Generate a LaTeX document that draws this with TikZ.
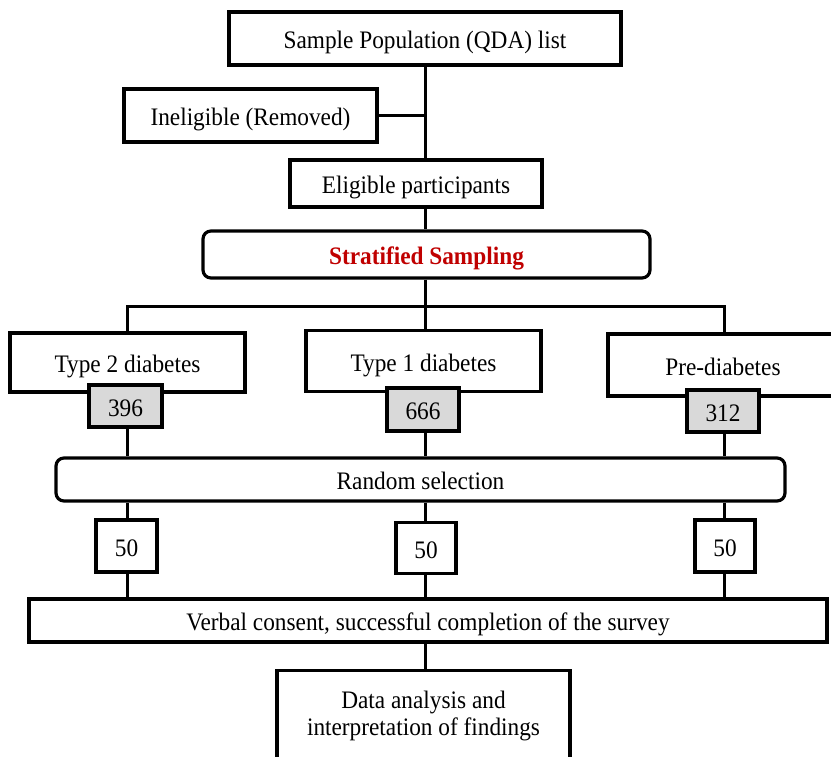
\documentclass[tikz,border=0pt]{standalone}
\usepackage{graphicx}
\usepackage{fontspec}
\setmainfont{Liberation Serif}
\definecolor{stratred}{HTML}{C00000}
\definecolor{numgray}{HTML}{D9D9D9}
\newcommand{\vs}[1]{\scalebox{1}[1.08]{#1}}
\begin{document}
\begin{tikzpicture}[x=1pt,y=-1pt,
  box/.style={draw=black,line width=3.2pt,rectangle,inner sep=0pt,align=center,
    text height=20pt,text depth=0pt,
    font=\fontsize{23.3}{27}\selectfont},
  rbox/.style={box,rounded corners=8pt},
  numbox/.style={box,fill=numgray},
  conn/.style={line width=3pt}]
\useasboundingbox (0,0) rectangle (831,756);
\clip (0,0) rectangle (831,756);
\fill[white] (0,0) rectangle (831,756);

\node[box,minimum width=392pt,minimum height=53pt] (pop) at (425,38.5) {\vs{Sample Population (QDA) list}};
\node[box,minimum width=253pt,minimum height=53pt] (inel) at (250.5,115.5) {\vs{Ineligible (Removed)}};
\node[box,minimum width=252pt,minimum height=47pt] (elig) at (416,183.5) {\vs{Eligible participants}};
\node[rbox,minimum width=447pt,minimum height=47pt] (strat) at (426.5,254.5) {\vs{\textcolor{stratred}{\textbf{Stratified Sampling}}}};

\node[box,minimum width=235pt,minimum height=59pt] (t2) at (127.5,362.5) {\vs{Type 2 diabetes}};
\node[box,minimum width=235pt,minimum height=61pt] (t1) at (423.5,361) {\vs{Type 1 diabetes}};
\node[box,minimum width=230pt,minimum height=62pt] (pre) at (723,365) {\vs{Pre-diabetes}};

\node[numbox,minimum width=73pt,minimum height=42pt] (n396) at (125.5,406) {\vs{396}};
\node[numbox,minimum width=72pt,minimum height=43pt] (n666) at (423,409.5) {\vs{666}};
\node[numbox,minimum width=72pt,minimum height=42pt] (n312) at (723,411) {\vs{312}};

\node[rbox,minimum width=729pt,minimum height=43pt] (rand) at (420.5,479.5) {\vs{Random selection}};

\node[box,minimum width=61pt,minimum height=52pt] (fa) at (126.5,546) {\vs{50}};
\node[box,minimum width=60pt,minimum height=51pt] (fb) at (426,548) {\vs{50}};
\node[box,minimum width=60pt,minimum height=52pt] (fc) at (725,546) {\vs{50}};

\node[box,minimum width=798pt,minimum height=43pt] (verb) at (428,620.5) {\vs{Verbal consent, successful completion of the survey}};

\node[box,minimum width=293pt,minimum height=102pt,anchor=north] (data) at (423.5,668.5) {};
\node[font=\fontsize{23.3}{25}\selectfont,inner sep=0pt,anchor=base] (datat) at (423.5,708.5)
  {\vs{\begin{tabular}[t]{@{}c@{}}Data analysis and\\interpretation of findings\end{tabular}}};

% connectors
\coordinate (cL) at (127,306);
\coordinate (cM) at (425,306);
\coordinate (cR) at (724,306);
\draw[conn] (pop.south -| cM) -- (elig.north -| cM);
\draw[conn] (inel.east) -- (inel.east -| cM);
\draw[conn] (elig.south -| cM) -- (strat.north -| cM);
\draw[conn] (strat.south -| cM) -- (cM);
\draw[conn] (t2.north -| cL) -- (cL) -- (cR) -- (pre.north -| cR);
\draw[conn] (cM) -- (t1.north -| cM);
\draw[conn] (n396.south -| cL) -- (rand.north -| cL);
\draw[conn] (n666.south -| cM) -- (rand.north -| cM);
\draw[conn] (n312.south -| cR) -- (rand.north -| cR);
\draw[conn] (rand.south -| cL) -- (fa.north -| cL);
\draw[conn] (rand.south -| cM) -- (fb.north -| cM);
\draw[conn] (rand.south -| cR) -- (fc.north -| cR);
\draw[conn] (fa.south -| cL) -- (verb.north -| cL);
\draw[conn] (fb.south -| cM) -- (verb.north -| cM);
\draw[conn] (fc.south -| cR) -- (verb.north -| cR);
\draw[conn] (verb.south -| cM) -- (data.north -| cM);
\end{tikzpicture}
\end{document}
